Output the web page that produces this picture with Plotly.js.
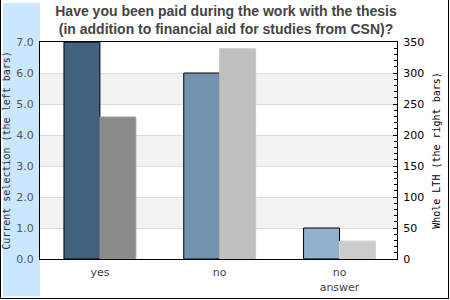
<!DOCTYPE html>
<html><head><meta charset="utf-8">
<script src="https://cdn.plot.ly/plotly-3.0.1.min.js"></script>
<style>html,body{margin:0;padding:0;background:#fff}#chart{width:450px;height:300px}</style>
</head><body><div id="chart"></div>
<script>
const categories = ['yes', 'no', 'no<br>answer'];
const currentSelection = [7.0, 6.0, 1.0];
const wholeLTH = [229, 339, 29];
const leftColors = ['#42617e', '#7394b0', '#90b0cc'];
const rightColors = ['#8a8a8a', '#bfbfbf', '#cbcbcb'];
const rightEdge = ['#9a9a9a', '#c8c8c8', '#d2d2d2'];
const leftTicks = [0, 1, 2, 3, 4, 5, 6, 7];
const bands = [[1, 2], [3, 4], [5, 6]];

const L = 40, R = 53, T = 42, B = 41, W = 450, H = 300;
const pw = W - L - R, ph = H - T - B;
const px = v => (v - L) / pw;      // pixel -> paper x
const py = v => (H - B - v) / ph;  // pixel -> paper y

const shapes = [];
shapes.push({type:'rect', xref:'paper', yref:'paper', x0:px(3), x1:px(40), y0:py(296.5), y1:py(3), fillcolor:'#cbe7fd', line:{width:0}, layer:'below'});
bands.forEach(b => shapes.push({type:'rect', xref:'paper', yref:'y', x0:0, x1:1, y0:b[0], y1:b[1], fillcolor:'#f2f2f2', line:{width:0}, layer:'below'}));
shapes.push({type:'line', xref:'paper', yref:'paper', x0:px(0.5), x1:px(0.5), y0:py(0), y1:py(298.5), line:{color:'#000', width:1}});
shapes.push({type:'line', xref:'paper', yref:'paper', x0:px(448.5), x1:px(448.5), y0:py(0), y1:py(298.5), line:{color:'#000', width:1}});
shapes.push({type:'line', xref:'paper', yref:'paper', x0:px(0), x1:px(449), y0:py(298.5), y1:py(298.5), line:{color:'#000', width:1}});

const data = [
  {type:'bar', x:categories, y:currentSelection, yaxis:'y', offsetgroup:'1', name:'Current selection',
   marker:{color:leftColors, line:{color:'#000', width:1}}, hoverinfo:'skip'},
  {type:'bar', x:categories, y:wholeLTH, yaxis:'y2', offsetgroup:'2', name:'Whole LTH',
   marker:{color:rightColors, line:{color:rightEdge, width:1}}, hoverinfo:'skip'}
];

const layout = {
  width: W, height: H,
  margin:{l:L, r:R, t:T, b:B, pad:0},
  paper_bgcolor:'rgba(0,0,0,0)', plot_bgcolor:'#fff',
  showlegend:false,
  barmode:'group', bargap:0.4, bargroupgap:0,
  font:{family:'DejaVu Sans', size:11, color:'#444'},
  title:{text:'Have you been paid during the work with the thesis<br>(in addition to financial aid for studies from CSN)?',
         font:{family:'Liberation Sans', size:14, color:'#444', weight:'bold'},
         x:226/450, xref:'container', xanchor:'center', y:0.947, yref:'container', yanchor:'top'},
  xaxis:{type:'category', range:[-0.5, 2.48], showgrid:false, ticks:'', showline:true, linecolor:'#000', linewidth:1, mirror:true,
         ticklabelstandoff:3,
         tickfont:{family:'DejaVu Sans', size:11, color:'#444'}, fixedrange:true},
  yaxis:{range:[0, 7], tickvals:leftTicks, tickformat:'.1f', showgrid:true, gridcolor:'#dedede', gridwidth:1,
         zeroline:false, showline:true, linecolor:'#000', linewidth:1, ticks:'', ticklabelstandoff:3,
         tickfont:{family:'DejaVu Sans', size:11, color:'#555'},
         title:{text:'Current selection (the left bars)', font:{family:'DejaVu Sans Mono', size:10, color:'#333'}, standoff:3}},
  yaxis2:{overlaying:'y', side:'right', range:[0, 350], dtick:50, showgrid:false, zeroline:false,
          showline:true, linecolor:'#000', linewidth:1, ticks:'inside', ticklen:4, tickcolor:'#000',
          minor:{dtick:10, ticks:'inside', ticklen:3, tickcolor:'#000'},
          ticklabelstandoff:3,
          tickfont:{family:'DejaVu Sans', size:11, color:'#000'},
          title:{text:'Whole LTH (the right bars)', font:{family:'DejaVu Sans Mono', size:10, color:'#000'}, standoff:9}},
  shapes: shapes
};

Plotly.newPlot('chart', data, layout, {staticPlot:true, displayModeBar:false});
</script>
</body></html>
